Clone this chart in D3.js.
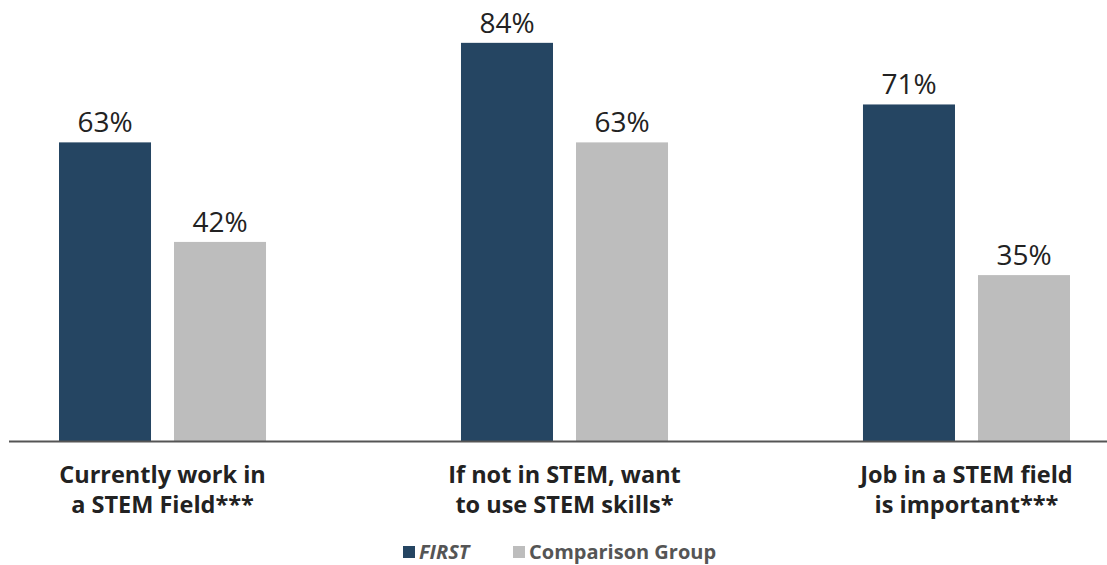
<!DOCTYPE html>
<html>
<head>
<meta charset="utf-8">
<script src="https://cdn.jsdelivr.net/npm/d3@7"></script>
<style>
  body { margin: 0; background: #fff; }
  svg { display: block; font-family: "Open Sans", sans-serif; }
</style>
</head>
<body>
<svg id="canvas"></svg>
<script>
const categories = [
  ["Currently work in", "a STEM Field***"],
  ["If not in STEM, want", "to use STEM skills*"],
  ["Job in a STEM field", "is important***"]
];
const seriesNames = ["FIRST", "Comparison Group"];
const firstValues = [63, 84, 71];
const comparisonValues = [42, 63, 35];

const width = 1107;
const height = 565;
const colors = ["#254562", "#bdbdbd"];

const svg = d3.select("#canvas")
  .attr("width", width)
  .attr("height", height);

const baseY = 441;

// groups of bars
const x0 = d3.scaleBand()
  .domain(d3.range(categories.length))
  .range([18.8, 1110.2])
  .paddingInner(0.485)
  .paddingOuter(0.1);

const x1 = d3.scaleBand()
  .domain([0, 1])
  .range([0, x0.bandwidth()])
  .paddingInner(0.2);

const y = d3.scaleLinear()
  .domain([0, 100])
  .range([baseY, -33]);

const data = categories.map((c, i) => ({
  idx: i,
  values: [firstValues[i], comparisonValues[i]]
}));

const groups = svg.selectAll("g.group")
  .data(data)
  .enter()
  .append("g")
  .attr("class", "group")
  .attr("transform", d => `translate(${x0(d.idx)},0)`);

groups.selectAll("rect")
  .data(d => d.values)
  .enter()
  .append("rect")
  .attr("x", (d, j) => x1(j))
  .attr("y", d => y(d))
  .attr("width", x1.bandwidth())
  .attr("height", d => baseY - y(d))
  .attr("fill", (d, j) => colors[j]);

// value labels
groups.selectAll("text.value")
  .data(d => d.values)
  .enter()
  .append("text")
  .attr("class", "value")
  .attr("x", (d, j) => x1(j) + x1.bandwidth() / 2)
  .attr("y", d => y(d) - 10)
  .attr("text-anchor", "middle")
  .attr("font-size", 28)
  .attr("fill", "#222")
  .text(d => d + "%");

// baseline
svg.append("line")
  .attr("x1", 9)
  .attr("x2", width)
  .attr("y1", baseY + 0.5)
  .attr("y2", baseY + 0.5)
  .attr("stroke", "#555")
  .attr("stroke-width", 2);

// category labels
const labels = svg.selectAll("text.cat")
  .data(categories)
  .enter()
  .append("text")
  .attr("class", "cat")
  .attr("x", (d, i) => x0(i) + x0.bandwidth() / 2)
  .attr("y", 483)
  .attr("text-anchor", "middle")
  .attr("font-size", 23.5)
  .attr("font-weight", "bold")
  .attr("fill", "#222");

labels.selectAll("tspan")
  .data(d => d)
  .enter()
  .append("tspan")
  .attr("x", function () { return d3.select(this.parentNode).attr("x"); })
  .attr("dy", (d, k) => k === 0 ? 0 : 30)
  .text(d => d);

// legend
const legend = svg.append("g").attr("transform", "translate(403,546)");
const legendX = [0, 110];
seriesNames.forEach((name, i) => {
  legend.append("rect")
    .attr("x", legendX[i])
    .attr("y", 0)
    .attr("width", 12)
    .attr("height", 12)
    .attr("fill", colors[i]);
  legend.append("text")
    .attr("x", legendX[i] + 16)
    .attr("y", 13)
    .attr("font-size", 20)
    .attr("font-weight", "bold")
    .attr("font-style", i === 0 ? "italic" : "normal")
    .attr("fill", "#555")
    .text(name);
});
</script>
</body>
</html>
